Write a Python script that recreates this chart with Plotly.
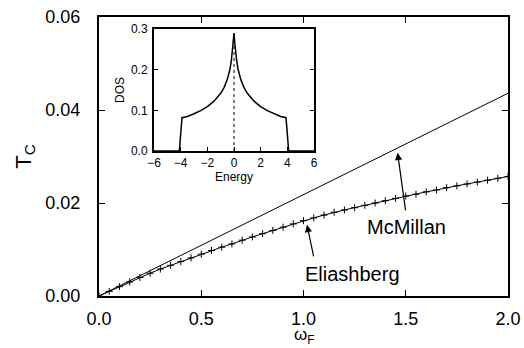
import plotly.graph_objects as go

# Main panel data
omega = [0.0, 0.05, 0.10, 0.15, 0.20, 0.25, 0.30, 0.35, 0.40, 0.45, 0.50,
         0.55, 0.60, 0.65, 0.70, 0.75, 0.80, 0.85, 0.90, 0.95, 1.00,
         1.05, 1.10, 1.15, 1.20, 1.25, 1.30, 1.35, 1.40, 1.45, 1.50,
         1.55, 1.60, 1.65, 1.70, 1.75, 1.80, 1.85, 1.90, 1.95, 2.00]
tc_eliashberg = [0.0, 0.0010, 0.0020, 0.0030, 0.0040, 0.0049, 0.0058, 0.0066, 0.0074, 0.0082, 0.0090,
                 0.0098, 0.0105, 0.0112, 0.0120, 0.0127, 0.0134, 0.0141, 0.0148, 0.0155, 0.0162,
                 0.0168, 0.0174, 0.0180, 0.0185, 0.0190, 0.0195, 0.0200, 0.0205, 0.0210, 0.0215,
                 0.0219, 0.0224, 0.0228, 0.0233, 0.0237, 0.0241, 0.0245, 0.0249, 0.0253, 0.0257]
omega_mcmillan = [0.0, 2.0]
tc_mcmillan = [0.0, 0.0436]

# Inset data (density of states)
energy = [-6.0, -4.1, -3.9, -3.5, -3.0, -2.5, -2.0, -1.5, -1.0, -0.75, -0.5, -0.3, -0.2, -0.1, -0.05, 0.0,
          0.05, 0.1, 0.2, 0.3, 0.5, 0.75, 1.0, 1.5, 2.0, 2.5, 3.0, 3.5, 3.9, 4.1, 6.0]
dos = [0.0, 0.0, 0.082, 0.085, 0.0915, 0.0993, 0.1093, 0.1225, 0.1419, 0.156, 0.1761, 0.2017, 0.222, 0.250, 0.268, 0.290,
       0.268, 0.250, 0.222, 0.2017, 0.1761, 0.156, 0.1419, 0.1225, 0.1093, 0.0993, 0.0915, 0.085, 0.082, 0.0, 0.0]
fermi_x = [0.0, 0.0]
fermi_y = [0.0, 0.29]

x_ticks = [0.0, 0.5, 1.0, 1.5, 2.0]
y_ticks = [0.00, 0.02, 0.04, 0.06]
inset_x_ticks = [-6, -4, -2, 0, 2, 4, 6]
inset_y_ticks = [0.0, 0.1, 0.2, 0.3]

FONT = "Liberation Sans, Arial, sans-serif"

fig = go.Figure()
fig.add_trace(go.Scatter(x=omega_mcmillan, y=tc_mcmillan, mode="lines",
                         line=dict(color="black", width=1), showlegend=False))
fig.add_trace(go.Scatter(x=omega, y=tc_eliashberg, mode="lines+markers",
                         line=dict(color="black", width=1),
                         marker=dict(symbol="cross-thin", size=5, line=dict(color="black", width=1)),
                         showlegend=False))
fig.add_trace(go.Scatter(x=energy, y=dos, mode="lines", xaxis="x2", yaxis="y2",
                         line=dict(color="black", width=1.5), showlegend=False))
fig.add_trace(go.Scatter(x=fermi_x, y=fermi_y, mode="lines", xaxis="x2", yaxis="y2",
                         line=dict(color="black", width=1, dash="dot"), showlegend=False))

axis_common = dict(showgrid=False, zeroline=False, showline=True, linecolor="black",
                   linewidth=2, ticks="inside", tickcolor="black", mirror="ticks",
                   automargin=False)

fig.update_layout(
    width=524, height=348,
    margin=dict(l=99, r=16, t=17, b=52),
    paper_bgcolor="white", plot_bgcolor="white",
    font=dict(family=FONT, color="black"),
    xaxis=dict(range=[0, 2.0], tickvals=x_ticks, tickformat=".1f", ticklen=6, tickwidth=1,
               tickfont=dict(size=18), ticklabelstandoff=5,
               **axis_common),
    yaxis=dict(range=[0, 0.06], tickvals=y_ticks, tickformat=".2f", ticklen=6, tickwidth=1,
               tickfont=dict(size=18), ticklabelstandoff=13,
               title=dict(text="T<sub>C</sub>", font=dict(size=22), standoff=8),
               **axis_common),
    xaxis2=dict(domain=[0.1345, 0.5257], anchor="y2", range=[-6, 6], tickvals=inset_x_ticks,
                ticklen=4, tickwidth=1, tickfont=dict(size=12), ticklabelstandoff=0,
                title=dict(text="Energy", font=dict(size=12), standoff=0),
                showgrid=False, zeroline=False, showline=True, linecolor="black", linewidth=2,
                ticks="inside", tickcolor="black", mirror=True, automargin=False),
    yaxis2=dict(domain=[0.5197, 0.957], anchor="x2", range=[0, 0.3], tickvals=inset_y_ticks,
                tickformat=".1f", ticklen=4, tickwidth=1, tickfont=dict(size=12),
                ticklabelstandoff=2,
                title=dict(text="DOS", font=dict(size=12), standoff=4),
                **axis_common),
)

# x-axis title placed below the tick labels
fig.add_annotation(x=0.503, y=-0.143, xref="paper", yref="paper", text="ω<sub>F</sub>",
                   showarrow=False, xanchor="center", yanchor="middle",
                   font=dict(size=17, family=FONT))

# Arrows and labels
fig.add_annotation(x=1.46, y=0.0308, ax=1.50, ay=0.0181, xref="x", yref="y", axref="x", ayref="y",
                   text="", showarrow=True, arrowhead=2, arrowsize=1.2, arrowwidth=1.2, arrowcolor="black")
fig.add_annotation(x=1.505, y=0.0148, xref="x", yref="y", text="McMillan", showarrow=False,
                   font=dict(size=20, family=FONT))
fig.add_annotation(x=1.017, y=0.0153, ax=1.051, ay=0.0082, xref="x", yref="y", axref="x", ayref="y",
                   text="", showarrow=True, arrowhead=2, arrowsize=1.2, arrowwidth=1.2, arrowcolor="black")
fig.add_annotation(x=1.242, y=0.0047, xref="x", yref="y", text="Eliashberg", showarrow=False,
                   font=dict(size=20, family=FONT))

fig.write_html("out.html", config={"displayModeBar": False},
               post_script="document.body.style.margin='0';document.body.style.overflow='hidden';")
